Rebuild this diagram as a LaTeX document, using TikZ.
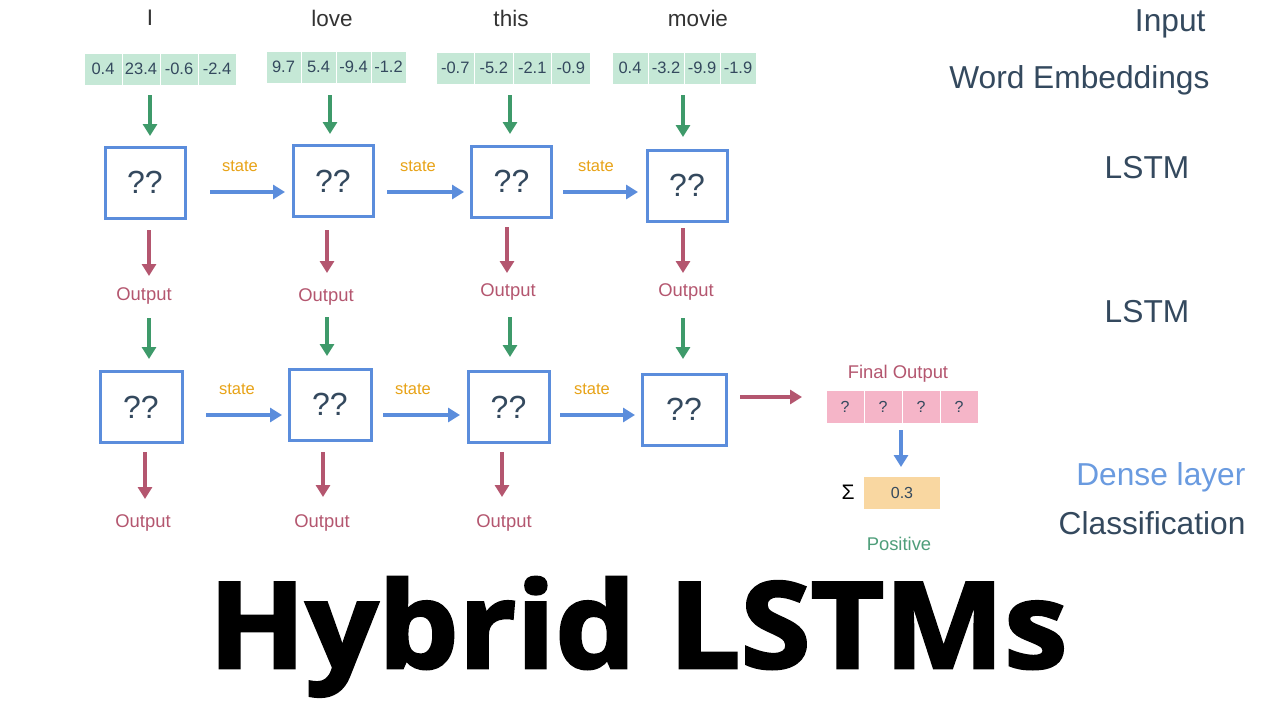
\documentclass[tikz,border=0pt]{standalone}
\usepackage{fontspec}
\usepackage{graphicx}
\setmainfont{Liberation Sans}
\newfontfamily\titlefont[FakeBold=2.2]{Open Sans Bold}
\usetikzlibrary{arrows.meta,positioning}
\definecolor{txt}{HTML}{34495E}
\definecolor{embg}{HTML}{C5E8D6}
\definecolor{grn}{HTML}{3E9A6A}
\definecolor{blu}{HTML}{5B8DDC}
\definecolor{red}{HTML}{B4566F}
\definecolor{org}{HTML}{E8A317}
\definecolor{pnk}{HTML}{F5B5C8}
\definecolor{peach}{HTML}{F9D7A1}
\definecolor{poscol}{HTML}{4E9E7A}
\definecolor{dense}{HTML}{6A9BE0}
\begin{document}
\begin{tikzpicture}[x=1pt,y=-1pt,
  lbl/.style={font=\fontsize{22.5}{22.5}\selectfont,text=black!80},
  side/.style={font=\fontsize{31.7}{31.7}\selectfont,text=txt},
  emcell/.style={fill=embg,draw=white,line width=1pt,minimum height=32pt,inner sep=0pt,font=\fontsize{16.5}{16.5}\selectfont,text=txt},
  pkcell/.style={fill=pnk,draw=white,line width=1pt,minimum height=33pt,minimum width=38pt,inner sep=0pt,font=\fontsize{16}{16}\selectfont,text=txt},
  lstm/.style={draw=blu,line width=3pt,minimum width=80pt,minimum height=71pt,inner sep=0pt,font=\fontsize{32}{32}\selectfont,text=txt},
  garr/.style={draw=grn,line width=3.3pt,-{Triangle[length=12pt,width=14pt]}},
  barr/.style={draw=blu,line width=3.3pt,-{Triangle[length=12pt,width=14pt]}},
  rarr/.style={draw=red,line width=3.3pt,-{Triangle[length=12pt,width=14pt]}},
  statel/.style={font=\fontsize{16.5}{16.5}\selectfont,text=org},
  outl/.style={font=\fontsize{18.4}{18.4}\selectfont,text=red},
]
\useasboundingbox (0,0) rectangle (1280,720);
\fill[white] (0,0) rectangle (1280,720);

% words
\node[lbl] (w1) at (150,18) {I};
\node[lbl] (w2) at (332,18) {love};
\node[lbl] (w3) at (511,18) {this};
\node[lbl] (w4) at (698,18) {movie};

% embeddings
\foreach \v [count=\i] in {0.4,23.4,-0.6,-2.4}
  \node[emcell,minimum width=38pt] (ea\i) at ({84+38*(\i-0.5)},69) {\v};
\foreach \v [count=\i] in {9.7,5.4,-9.4,-1.2}
  \node[emcell,minimum width=35pt] (eb\i) at ({266+35*(\i-0.5)},67) {\v};
\foreach \v [count=\i] in {-0.7,-5.2,-2.1,-0.9}
  \node[emcell,minimum width=38.5pt] (ec\i) at ({436+38.5*(\i-0.5)},68) {\v};
\foreach \v [count=\i] in {0.4,-3.2,-9.9,-1.9}
  \node[emcell,minimum width=36pt] (ed\i) at ({612+36*(\i-0.5)},68) {\v};

% LSTM row 1
\node[lstm] (a1) at (145,182.5) {??};
\node[lstm] (a2) at (333,181) {??};
\node[lstm] (a3) at (511.5,181.5) {??};
\node[lstm] (a4) at (687,185.5) {??};
% LSTM row 2
\node[lstm,minimum width=82pt] (b1) at (141,407) {??};
\node[lstm,minimum width=82pt] (b2) at (330,404.5) {??};
\node[lstm,minimum width=81pt] (b3) at (508.5,407) {??};
\node[lstm,minimum width=84pt] (b4) at (684,409.5) {??};

% green arrows from embeddings
\coordinate (g1s) at (150,95); \coordinate (g1e) at (150,136);
\coordinate (g2s) at (330,95); \coordinate (g2e) at (330,134);
\coordinate (g3s) at (510,95); \coordinate (g3e) at (510,134);
\coordinate (g4s) at (683,95); \coordinate (g4e) at (683,137);
\foreach \i in {1,...,4} \draw[garr] (g\i s) -- (g\i e);

% state arrows row 1
\coordinate (s1s) at (210,192); \coordinate (s1e) at (285,192);
\coordinate (s2s) at (387,192); \coordinate (s2e) at (464,192);
\coordinate (s3s) at (563,192); \coordinate (s3e) at (638,192);
\foreach \i in {1,2,3} \draw[barr] (s\i s) -- (s\i e);
\node[statel] (st1) at (240,166) {state};
\node[statel] (st2) at (418,166) {state};
\node[statel] (st3) at (596,166) {state};

% red output arrows row 1
\coordinate (r1s) at (149,230); \coordinate (r1e) at (149,276);
\coordinate (r2s) at (327,230); \coordinate (r2e) at (327,273);
\coordinate (r3s) at (507,227); \coordinate (r3e) at (507,273);
\coordinate (r4s) at (683,228); \coordinate (r4e) at (683,273);
\foreach \i in {1,...,4} \draw[rarr] (r\i s) -- (r\i e);
\node[outl] (o1) at (144,296) {Output};
\node[outl] (o2) at (326,297) {Output};
\node[outl] (o3) at (508,292) {Output};
\node[outl] (o4) at (686,292) {Output};

% green arrows between layers
\coordinate (h1s) at (149,318); \coordinate (h1e) at (149,359);
\coordinate (h2s) at (327,317); \coordinate (h2e) at (327,356);
\coordinate (h3s) at (510,317); \coordinate (h3e) at (510,357);
\coordinate (h4s) at (683,318); \coordinate (h4e) at (683,359);
\foreach \i in {1,...,4} \draw[garr] (h\i s) -- (h\i e);

% state arrows row 2
\coordinate (t1s) at (206,415); \coordinate (t1e) at (282,415);
\coordinate (t2s) at (383,415); \coordinate (t2e) at (460,415);
\coordinate (t3s) at (560,415); \coordinate (t3e) at (635,415);
\foreach \i in {1,2,3} \draw[barr] (t\i s) -- (t\i e);
\node[statel] (su1) at (237,389) {state};
\node[statel] (su2) at (413,389) {state};
\node[statel] (su3) at (592,389) {state};

% red output arrows row 2
\coordinate (q1s) at (145,452); \coordinate (q1e) at (145,499);
\coordinate (q2s) at (323,452); \coordinate (q2e) at (323,497);
\coordinate (q3s) at (502,452); \coordinate (q3e) at (502,497);
\foreach \i in {1,2,3} \draw[rarr] (q\i s) -- (q\i e);
\node[outl] (p1) at (143,523) {Output};
\node[outl] (p2) at (322,523) {Output};
\node[outl] (p3) at (504,523) {Output};

% final output
\coordinate (fs) at (740,397); \coordinate (fe) at (802,397);
\draw[rarr] (fs) -- (fe);
\node[outl] (fo) at (898,374) {Final Output};
\foreach \i in {1,...,4}
  \node[pkcell] (pk\i) at ({826+38*(\i-0.5)},406.5) {?};
\coordinate (ds) at (901,430); \coordinate (de) at (901,467);
\draw[barr] (ds) -- (de);
\node[fill=peach,minimum width=76pt,minimum height=32pt,inner sep=0pt,font=\fontsize{16}{16}\selectfont,text=txt] (sc) at (902,493) {0.3};
\node[font=\fontsize{21}{21}\selectfont] (sig) at (848,492) {Σ};
\node[font=\fontsize{18.4}{18.4}\selectfont,text=poscol] (pos) at (899,544) {Positive};

% right labels
\node[side,anchor=east] (li) at (1209,24) {Input};
\node[side,anchor=east] (lw) at (1213,80) {Word Embeddings};
\node[side] (l1) at (1147,168) {LSTM};
\node[side] (l2) at (1147,312) {LSTM};
\node[side,anchor=east,text=dense] (ld) at (1249,477) {Dense layer};
\node[side,anchor=east] (lc) at (1249,523) {Classification};

% title
\node[inner sep=0pt,anchor=base] (title) at (638,668) {\scalebox{1.06}[1]{\titlefont\fontsize{120}{120}\selectfont Hybrid LSTMs}};
\end{tikzpicture}
\end{document}
